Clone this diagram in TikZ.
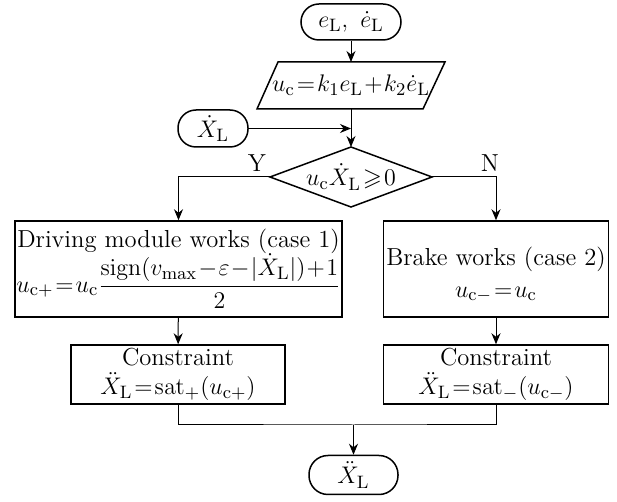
\documentclass[tikz,border=0pt]{standalone}
\usepackage{amsmath,amssymb}
\usetikzlibrary{arrows.meta}
\begin{document}
\medmuskip=1mu
\thickmuskip=1.5mu
\begin{tikzpicture}[x=0.5pt,y=-0.5pt,
  font=\fontsize{12.3}{14.8}\selectfont,
  every node/.style={inner sep=0pt},
  term/.style={draw,line width=0.75pt,rounded corners=8.5pt,minimum height=17.5pt},
  proc/.style={draw,line width=0.75pt,align=center},
  shapeline/.style={line width=0.75pt},
  conn/.style={line width=0.5pt},
  arr/.style={conn,-{Stealth[length=5.5pt,width=4.5pt]}}
]
\useasboundingbox (0,0) rectangle (617,502);
% start
\node[term,minimum width=50pt,minimum height=18pt,rounded corners=9pt] (start) at (351,22) {$e_{\mathrm L},\ \dot e_{\mathrm L}$};
% parallelogram
\node (calc) at (351,85.5) {$u_{\mathrm c}=k_1e_{\mathrm L}+k_2\dot e_{\mathrm L}$};
\coordinate (calcT) at (351,62);
\coordinate (calcB) at (351,109);
\draw[shapeline] (278,62) -- (445,62) -- (423,109) -- (257,109) -- cycle;
% X dot input
\node[term,minimum width=35pt,minimum height=18.5pt,rounded corners=9pt] (xd) at (213,128.5) {$\dot X_{\mathrm L}$};
\coordinate (join) at (351,128.5);
% decision
\node (dec) at (351,177) {$u_{\mathrm c}\dot X_{\mathrm L}\geqslant0$};
\coordinate (dT) at (351,147);
\coordinate (dL) at (270,177);
\coordinate (dR) at (432,177);
\coordinate (dB) at (351,207);
\draw[shapeline] (dL) -- (dT) -- (dR) -- (dB) -- cycle;
\node (Y) at (257,163) {Y};
\node (N) at (490,163) {N};
% process boxes
\node[proc,minimum width=163.5pt,minimum height=48pt] (drive) at (178.5,269)
  {Driving module works (case 1)\\[-1pt]
   $u_{\mathrm c+}=u_{\mathrm c}\dfrac{\mathrm{sign}(v_{\max}-\varepsilon-|\dot X_{\mathrm L}|)+1}{2}$};
\node[proc,minimum width=112.5pt,minimum height=48pt] (brake) at (496,269) {};
\node[align=center] (braketext) at (496,275)
  {Brake works (case 2)\\[1pt] $u_{\mathrm c-}=u_{\mathrm c}$};
\node[proc,minimum width=107pt,minimum height=29.5pt] (cons1) at (178,374.5)
  {Constraint\\ $\ddot X_{\mathrm L}=\mathrm{sat}_+(u_{\mathrm c+})$};
\node[proc,minimum width=112.5pt,minimum height=29.5pt] (cons2) at (496,374.5)
  {Constraint\\ $\ddot X_{\mathrm L}=\mathrm{sat}_-(u_{\mathrm c-})$};
% end
\node[term,minimum width=44.5pt,minimum height=19.5pt,rounded corners=9.5pt] (end) at (353.5,475) {$\ddot X_{\mathrm L}$};
\coordinate (merge) at (353.5,425);
% connectors
\draw[arr] (start) -- (calcT);
\draw[arr] (calcB) -- (dT);
\draw[arr] (xd) -- (join);
\draw[arr] (dL) -| (drive.north);
\draw[arr] (dR) -| (brake.north);
\draw[arr] (drive) -- (cons1);
\draw[arr] (brake) -- (cons2);
\draw[conn] (cons1.south) |- (merge) -| (cons2.south);
\draw[arr] (merge) -- (end);
\end{tikzpicture}
\end{document}
